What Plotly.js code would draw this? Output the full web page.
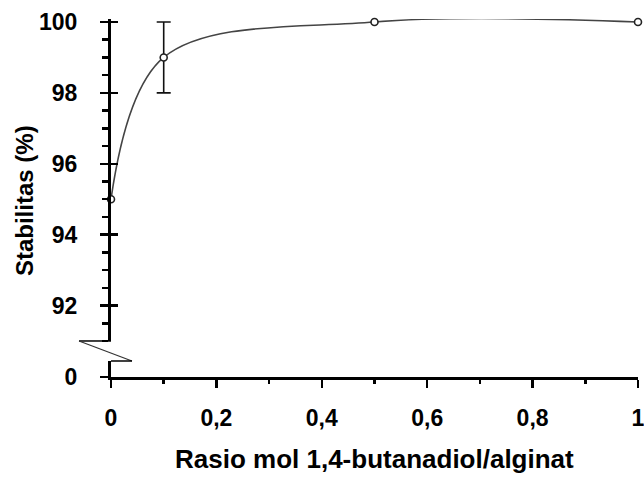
<!DOCTYPE html>
<html>
<head>
<meta charset="utf-8">
<script src="https://cdn.plot.ly/plotly-3.0.1.min.js"></script>
<style>html,body{margin:0;padding:0;background:#fff;}#chart{width:644px;height:477px;}</style>
</head>
<body>
<div id="chart"></div>
<script>
// Data
const ratio = [0, 0.1, 0.5, 1];
const stability = [95, 99, 100, 100];
const stabilityErr = [0, 1, 0, 0];
const xTickVals = [0, 0.2, 0.4, 0.6, 0.8, 1];
const xTickText = ['0', '0,2', '0,4', '0,6', '0,8', '1'];
const yTickVals = [92, 94, 96, 98, 100];
const yTickText = ['92', '94', '96', '98', '100'];
const yLowVals = [0];
const yLowText = ['0'];
const xTitle = 'Rasio mol 1,4-butanadiol/alginat';
const yTitle = 'Stabilitas (%)';

const FONT = '"Liberation Sans", Arial, sans-serif';
const tickFont = {family: FONT, size: 23, color: '#000', weight: 'bold'};

const hasErr = stabilityErr.map(e => e > 0);
const errTrace = {
  x: ratio.filter((_, i) => hasErr[i]), y: stability.filter((_, i) => hasErr[i]),
  xaxis: 'x', yaxis: 'y2', type: 'scatter', mode: 'markers',
  marker: {size: 1, opacity: 0},
  error_y: {type: 'data', array: stabilityErr.filter((_, i) => hasErr[i]), visible: true, color: '#111', thickness: 1.6, width: 7},
  cliponaxis: false, showlegend: false, hoverinfo: 'skip'
};
const trace = {
  x: ratio, y: stability, xaxis: 'x', yaxis: 'y2',
  type: 'scatter', mode: 'lines+markers',
  line: {shape: 'spline', smoothing: 1.0, color: '#444', width: 1.6},
  marker: {symbol: 'circle', size: 7, color: '#fff', line: {color: '#222', width: 1.6}},
  cliponaxis: false, showlegend: false
};
const helperLow = {x: [0.5], y: [0.5], xaxis: 'x', yaxis: 'y', mode: 'markers', marker: {opacity: 0}, hoverinfo: 'skip', showlegend: false};
const helperIn = {x: [0.5], y: [95], xaxis: 'x', yaxis: 'y3', mode: 'markers', marker: {opacity: 0}, hoverinfo: 'skip', showlegend: false};

const upperDom = [0.1006, 1];
const lowerDom = [0, 0.0447];
const upperRange = [91, 100.085];

const layout = {
  width: 644, height: 477,
  margin: {l: 111, r: 6, t: 19, b: 100},
  paper_bgcolor: '#fff', plot_bgcolor: 'rgba(0,0,0,0)',
  showlegend: false,
  xaxis: {
    range: [0, 1], anchor: 'y', showgrid: false, zeroline: false,
    showline: true, linecolor: '#000', linewidth: 3,
    ticks: 'outside', ticklen: 8, tickwidth: 2.5, tickcolor: '#000',
    tickvals: xTickVals, ticktext: xTickText, tickfont: tickFont,
    ticklabelstandoff: 10, ticklabeloverflow: 'allow',
    minor: {dtick: 0.1, tick0: 0, ticks: 'outside', ticklen: 4, tickwidth: 2.5, tickcolor: '#000', showgrid: false}
  },
  yaxis: {
    domain: lowerDom, range: [0, 1], anchor: 'x', showgrid: false, zeroline: false,
    showline: true, linecolor: '#000', linewidth: 3,
    ticks: 'outside', ticklen: 8, tickwidth: 2.5, tickcolor: '#000',
    tickvals: yLowVals, ticktext: yLowText, tickfont: tickFont, ticklabelstandoff: 18
  },
  yaxis2: {
    domain: upperDom, range: upperRange, anchor: 'x', showgrid: false, zeroline: false,
    showline: true, linecolor: '#000', linewidth: 3,
    ticks: 'outside', ticklen: 8, tickwidth: 2.5, tickcolor: '#000',
    tickvals: yTickVals, ticktext: yTickText, tickfont: tickFont, ticklabelstandoff: 18,
    minor: {dtick: 0.5, tick0: 91, ticks: 'outside', ticklen: 6, tickwidth: 2.5, tickcolor: '#000', showgrid: false}
  },
  yaxis3: {
    domain: upperDom, range: upperRange, anchor: 'x', overlaying: 'y2', showgrid: false, zeroline: false,
    showline: false, ticks: 'inside', ticklen: 7, tickwidth: 2.5, tickcolor: '#000',
    tickvals: yTickVals, showticklabels: false
  },
  annotations: [
    {text: yTitle, xref: 'paper', yref: 'paper', x: -0.165, y: 0.4916, textangle: -90,
     showarrow: false, xanchor: 'center', yanchor: 'middle', font: {family: FONT, size: 24, color: '#000', weight: 'bold'}},
    {text: xTitle, xref: 'paper', yref: 'paper', x: 0.5, y: -0.229,
     showarrow: false, xanchor: 'center', yanchor: 'middle', font: {family: FONT, size: 26, color: '#000', weight: 'bold'}}
  ],
  shapes: [
    {type: 'line', xref: 'paper', yref: 'paper', x0: -0.0607, y0: 0.1006, x1: 0, y1: 0.1006, line: {color: '#000', width: 1.5}},
    {type: 'line', xref: 'paper', yref: 'paper', x0: -0.0607, y0: 0.1006, x1: 0.0398, y1: 0.0447, line: {color: '#333', width: 1.2}},
    {type: 'line', xref: 'paper', yref: 'paper', x0: 0, y0: 0.0447, x1: 0.0398, y1: 0.0447, line: {color: '#000', width: 1.5}}
  ]
};

Plotly.newPlot('chart', [helperLow, helperIn, errTrace, trace], layout, {displayModeBar: false, staticPlot: true});
</script>
</body>
</html>
